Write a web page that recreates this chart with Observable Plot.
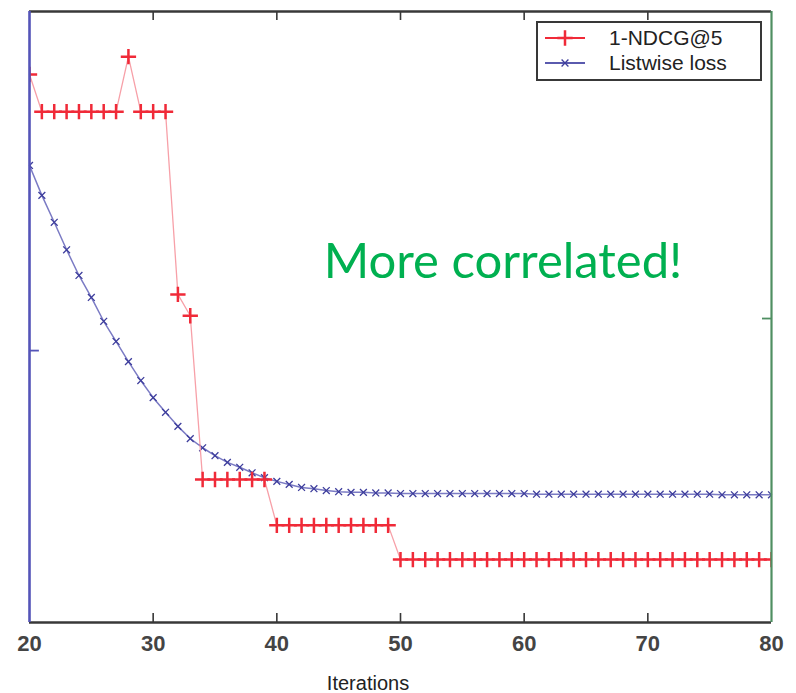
<!DOCTYPE html>
<html>
<head>
<meta charset="utf-8">
<script src="https://cdn.jsdelivr.net/npm/d3@7"></script>
<script src="https://cdn.jsdelivr.net/npm/@observablehq/plot@0.6"></script>
<style>
  html, body { margin: 0; padding: 0; background: #fff; }
  #chart svg { display: block; }
</style>
</head>
<body>
<div id="chart"></div>
<script>
const iterations = [20,21,22,23,24,25,26,27,28,29,30,31,32,33,34,35,36,37,38,39,40,41,42,43,44,45,46,47,48,49,50,51,52,53,54,55,56,57,58,59,60,61,62,63,64,65,66,67,68,69,70,71,72,73,74,75,76,77,78,79,80];
const ndcgLoss = [0.897,0.836,0.836,0.836,0.836,0.836,0.836,0.836,0.926,0.836,0.836,0.836,0.537,0.502,0.234,0.234,0.234,0.234,0.234,0.234,0.159,0.159,0.159,0.159,0.159,0.159,0.159,0.159,0.159,0.159,0.103,0.103,0.103,0.103,0.103,0.103,0.103,0.103,0.103,0.103,0.103,0.103,0.103,0.103,0.103,0.103,0.103,0.103,0.103,0.103,0.103,0.103,0.103,0.103,0.103,0.103,0.103,0.103,0.103,0.103,0.103];
const listwiseLoss = [0.748,0.699,0.655,0.610,0.568,0.532,0.493,0.460,0.427,0.396,0.368,0.344,0.321,0.301,0.286,0.273,0.262,0.254,0.245,0.237,0.231,0.226,0.221,0.219,0.216,0.214,0.213,0.213,0.212,0.212,0.211,0.211,0.211,0.211,0.211,0.211,0.211,0.211,0.211,0.211,0.211,0.210,0.210,0.210,0.210,0.210,0.210,0.210,0.210,0.210,0.210,0.210,0.210,0.210,0.210,0.210,0.209,0.209,0.209,0.209,0.209];
const xTicks = [20,30,40,50,60,70,80];
const innerXTicks = [30,40,50,60,70];
const leftYTick = [0.445];
const rightYTick = [0.4975];
const seriesNames = ["1-NDCG@5", "Listwise loss"];
const xLabel = "Iterations";
const annotation = "More correlated!";

const data = iterations.map((it, i) => ({it, ndcg: ndcgLoss[i], lw: listwiseLoss[i]}));

const RED = "#f02a38", RED_LINE = "#f7a0a8";
const BLUE = "#3d3d9c", BLUE_LINE = "#7b7bc4", BLUE_AXIS = "#5454b8";
const GREEN_AXIS = "#4f8f62", DARK = "#383838";

const chart = Plot.plot({
  width: 796,
  height: 693,
  marginLeft: 29,
  marginRight: 25,
  marginTop: 11,
  marginBottom: 71,
  style: {fontFamily: "'Liberation Sans', Arial, sans-serif", background: "#fff"},
  x: {domain: [20, 80]},
  y: {domain: [0, 1], axis: null},
  marks: [
    Plot.axisX({ticks: xTicks, tickSize: 0, tickPadding: 13, fontSize: 22, fontWeight: "bold", fill: "#444", label: null, tickFormat: d => String(d)}),
    Plot.line(data, {x: "it", y: "lw", stroke: BLUE_LINE, strokeWidth: 1.5}),
    Plot.dot(data, {x: "it", y: "lw", symbol: "times", r: 3.2, stroke: BLUE, strokeWidth: 1.3, clip: true}),
    Plot.line(data, {x: "it", y: "ndcg", stroke: RED_LINE, strokeWidth: 1.3}),
    Plot.dot(data, {x: "it", y: "ndcg", symbol: "plus", r: 5, stroke: RED, strokeWidth: 2.5, clip: true}),
    // inner ticks
    Plot.ruleX(innerXTicks, {y1: 0, y2: 0.0147, stroke: DARK, strokeWidth: 1.6}),
    Plot.ruleX(innerXTicks, {y1: 1, y2: 0.9853, stroke: DARK, strokeWidth: 1.6}),
    Plot.ruleY(leftYTick, {x1: 20, x2: 20.8, stroke: BLUE_AXIS, strokeWidth: 1.8}),
    Plot.ruleY(rightYTick, {x1: 79.27, x2: 80, stroke: GREEN_AXIS, strokeWidth: 1.8}),
    // frame
    Plot.ruleY([0], {stroke: DARK, strokeWidth: 2.6}),
    Plot.ruleY([1], {stroke: DARK, strokeWidth: 2.6}),
    Plot.ruleX([20], {stroke: BLUE_AXIS, strokeWidth: 2.6}),
    Plot.ruleX([80], {stroke: GREEN_AXIS, strokeWidth: 2.2})
  ]
});

document.getElementById("chart").appendChild(chart);

const svg = d3.select(chart);

// annotation
svg.append("text")
  .attr("x", 503).attr("y", 278)
  .attr("text-anchor", "middle")
  .attr("font-family", "Lato, 'Open Sans', sans-serif")
  .attr("font-size", 49)
  .attr("fill", "#00b050")
  .text(annotation);

// x label
svg.append("text")
  .attr("x", 368).attr("y", 690)
  .attr("text-anchor", "middle")
  .attr("font-family", "'Liberation Sans', Arial, sans-serif")
  .attr("font-size", 20)
  .attr("fill", "#222")
  .text(xLabel);

// legend
const lg = svg.append("g").attr("text-anchor", "start");
lg.append("rect")
  .attr("x", 537).attr("y", 22).attr("width", 224).attr("height", 58)
  .attr("fill", "#fff").attr("stroke", DARK).attr("stroke-width", 2);
const items = [
  {name: seriesNames[0], y: 38, mark: RED, type: d3.symbolPlus, size: Math.PI * 5 * 5, sw: 2.5, lineColor: RED},
  {name: seriesNames[1], y: 63, mark: BLUE, type: d3.symbolTimes, size: Math.PI * 3.2 * 3.2, sw: 1.3, lineColor: "#5a5aae"}
];
items.forEach(it => {
  lg.append("line").attr("x1", 545).attr("x2", 585).attr("y1", it.y).attr("y2", it.y)
    .attr("stroke", it.lineColor).attr("stroke-width", 2);
  lg.append("path").attr("transform", `translate(565,${it.y})`)
    .attr("d", d3.symbol(it.type, it.size)())
    .attr("fill", "none").attr("stroke", it.mark).attr("stroke-width", it.sw);
  lg.append("text").attr("x", 609).attr("y", it.y + 7)
    .attr("text-anchor", "start")
    .attr("font-family", "'Liberation Sans', Arial, sans-serif")
    .attr("font-size", 21).attr("fill", "#222")
    .text(it.name);
});
</script>
</body>
</html>
